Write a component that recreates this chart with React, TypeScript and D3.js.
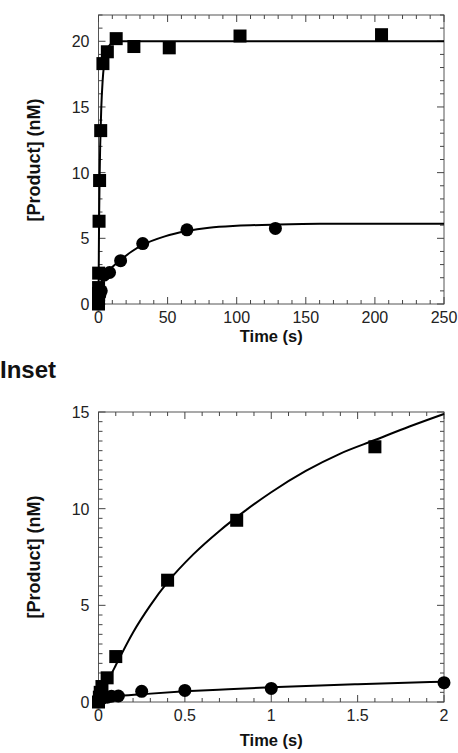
import React, { useRef, useEffect } from "react";
import * as d3 from "d3";

// measured points, main panel (time in s, product in nM)
const squareTime = [0, 0.005, 0.01, 0.02, 0.05, 0.1, 0.4, 0.8, 1.6, 3.2, 6.4, 12.8, 25.6, 51.2, 102.4, 204.8];
const squareProduct = [0, 0.25, 0.5, 0.8, 1.25, 2.35, 6.3, 9.4, 13.2, 18.3, 19.2, 20.2, 19.6, 19.5, 20.4, 20.5];
const circleTime = [0, 0.01, 0.02, 0.05, 0.075, 0.115, 0.25, 0.5, 1, 2, 4, 8, 16, 32, 64, 128];
const circleProduct = [0, 0.1, 0.2, 0.25, 0.3, 0.31, 0.55, 0.6, 0.7, 1.0, 2.2, 2.4, 3.3, 4.6, 5.65, 5.75];

// fitted curves
const squareFitTime = [0, 0.4, 0.8, 1.2, 1.6, 2, 3, 4, 5, 6, 8, 10, 14, 20, 250];
const squareFitProduct = [0, 6.1, 9.6, 12.0, 13.5, 14.9, 17.0, 18.2, 18.9, 19.3, 19.7, 19.9, 20.0, 20.0, 20.0];
const circleFitTime = [0, 1, 2, 4, 8, 12, 16, 24, 32, 48, 64, 80, 100, 130, 160, 250];
const circleFitProduct = [0, 1.0, 1.6, 2.1, 2.6, 3.0, 3.35, 4.0, 4.5, 5.15, 5.55, 5.8, 5.95, 6.05, 6.1, 6.1];

// inset curves (0-2 s)
const insetSquareFitTime = [0, 0.05, 0.1, 0.2, 0.3, 0.4, 0.55, 0.7, 0.85, 1.0, 1.2, 1.4, 1.6, 1.8, 2];
const insetSquareFitProduct = [0, 1.0, 1.9, 3.6, 5.0, 6.2, 7.65, 8.85, 9.9, 10.85, 11.95, 12.85, 13.55, 14.25, 14.9];
const insetCircleFitTime = [0, 0.1, 0.25, 0.5, 0.75, 1, 1.5, 2];
const insetCircleFitProduct = [0.2, 0.3, 0.4, 0.55, 0.66, 0.76, 0.92, 1.05];

const topXTicks = [0, 50, 100, 150, 200, 250];
const topYTicks = [0, 5, 10, 15, 20];
const insetXTicks = [0, 0.5, 1, 1.5, 2];
const insetYTicks = [0, 5, 10, 15];

const FONT = "'Liberation Sans', Arial, sans-serif";

type Pt = [number, number];
const zip = (a: number[], b: number[]): Pt[] => a.map((t, i) => [t, b[i]]);

function drawPanel(
  svg: d3.Selection<SVGSVGElement, unknown, null, undefined>,
  opts: {
    x0: number; x1: number; y0: number; y1: number;
    xDomain: [number, number]; yDomain: [number, number];
    xTicks: number[]; yTicks: number[]; xMinor: number; yMinor: number;
    squares: Pt[]; circles: Pt[]; fits: Pt[][];
    titleY: number; ylabelY: number;
  }
) {
  const x = d3.scaleLinear().domain(opts.xDomain).range([opts.x0, opts.x1]);
  const y = d3.scaleLinear().domain(opts.yDomain).range([opts.y1, opts.y0]);
  const g = svg.append("g");

  g.append("rect")
    .attr("x", opts.x0).attr("y", opts.y0)
    .attr("width", opts.x1 - opts.x0).attr("height", opts.y1 - opts.y0)
    .attr("fill", "none").attr("stroke", "#555").attr("stroke-width", 1);

  const xMinor = d3.range(opts.xDomain[0], opts.xDomain[1] + 1e-9, opts.xMinor);
  const yMinor = d3.range(opts.yDomain[0], opts.yDomain[1] + 1e-9, opts.yMinor);
  const ticks = g.append("g").attr("stroke", "#444").attr("stroke-width", 1);
  const isMajor = (v: number, arr: number[]) => arr.some((m) => Math.abs(m - v) < 1e-6);
  xMinor.forEach((v) => {
    const len = isMajor(v, opts.xTicks) ? 7 : 4;
    ticks.append("line").attr("x1", x(v)).attr("x2", x(v)).attr("y1", opts.y1).attr("y2", opts.y1 - len);
    ticks.append("line").attr("x1", x(v)).attr("x2", x(v)).attr("y1", opts.y0).attr("y2", opts.y0 + len);
  });
  yMinor.forEach((v) => {
    const len = isMajor(v, opts.yTicks) ? 7 : 4;
    ticks.append("line").attr("y1", y(v)).attr("y2", y(v)).attr("x1", opts.x0).attr("x2", opts.x0 + len);
    ticks.append("line").attr("y1", y(v)).attr("y2", y(v)).attr("x1", opts.x1).attr("x2", opts.x1 - len);
  });

  g.append("g").selectAll("text").data(opts.xTicks).enter().append("text")
    .attr("x", (d) => x(d)).attr("y", opts.y1 + 19)
    .attr("text-anchor", "middle").attr("font-family", FONT).attr("font-size", 16)
    .attr("fill", "#222").text((d) => String(d));
  g.append("g").selectAll("text").data(opts.yTicks).enter().append("text")
    .attr("x", opts.x0 - 9).attr("y", (d) => y(d) + 6)
    .attr("text-anchor", "end").attr("font-family", FONT).attr("font-size", 16)
    .attr("fill", "#222").text((d) => String(d));

  g.append("text")
    .attr("x", (opts.x0 + opts.x1) / 2).attr("y", opts.titleY)
    .attr("text-anchor", "middle").attr("font-family", FONT).attr("font-size", 16.5)
    .attr("font-weight", "bold").attr("fill", "#111").text("Time (s)");
  g.append("text")
    .attr("transform", `translate(40, ${opts.ylabelY}) rotate(-90)`)
    .attr("text-anchor", "middle").attr("font-family", FONT).attr("font-size", 18)
    .attr("font-weight", "bold").attr("fill", "#111").text("[Product] (nM)");

  const line = d3.line<Pt>().x((d) => x(d[0])).y((d) => y(d[1])).curve(d3.curveMonotoneX);
  opts.fits.forEach((f) => {
    g.append("path").attr("d", line(f)).attr("fill", "none")
      .attr("stroke", "#000").attr("stroke-width", 2);
  });

  const s = 13;
  g.append("g").selectAll("rect").data(opts.squares).enter().append("rect")
    .attr("x", (d) => x(d[0]) - s / 2).attr("y", (d) => y(d[1]) - s / 2)
    .attr("width", s).attr("height", s).attr("fill", "#000");
  g.append("g").selectAll("circle").data(opts.circles).enter().append("circle")
    .attr("cx", (d) => x(d[0])).attr("cy", (d) => y(d[1])).attr("r", 6.5).attr("fill", "#000");
}

const App = () => {
  const ref = useRef<SVGSVGElement>(null);

  useEffect(() => {
    const svg = d3.select(ref.current as SVGSVGElement);
    svg.selectAll("*").remove();

    drawPanel(svg, {
      x0: 98.5, x1: 444, y0: 15, y1: 304,
      xDomain: [0, 250], yDomain: [0, 22],
      xTicks: topXTicks, yTicks: topYTicks, xMinor: 10, yMinor: 1,
      squares: zip(squareTime, squareProduct),
      circles: zip(circleTime, circleProduct),
      fits: [zip(squareFitTime, squareFitProduct), zip(circleFitTime, circleFitProduct)],
      titleY: 342, ylabelY: 160,
    });

    const inT = (t: number[], v: number[]) => zip(t, v).filter((d) => d[0] <= 2);
    drawPanel(svg, {
      x0: 98.5, x1: 444, y0: 412, y1: 702,
      xDomain: [0, 2], yDomain: [0, 15],
      xTicks: insetXTicks, yTicks: insetYTicks, xMinor: 0.1, yMinor: 0.5,
      squares: inT(squareTime, squareProduct),
      circles: inT(circleTime, circleProduct),
      fits: [zip(insetSquareFitTime, insetSquareFitProduct), zip(insetCircleFitTime, insetCircleFitProduct)],
      titleY: 746, ylabelY: 557,
    });

    svg.append("text")
      .attr("x", 0).attr("y", 378)
      .attr("font-family", FONT).attr("font-size", 24).attr("font-weight", "bold")
      .attr("fill", "#111").text("Inset");
  }, []);

  return (
    <div style={{ position: "absolute", left: 0, top: 0 }}>
      <svg ref={ref} width={458} height={753} style={{ display: "block", background: "#fff" }} />
    </div>
  );
};

export default App;
